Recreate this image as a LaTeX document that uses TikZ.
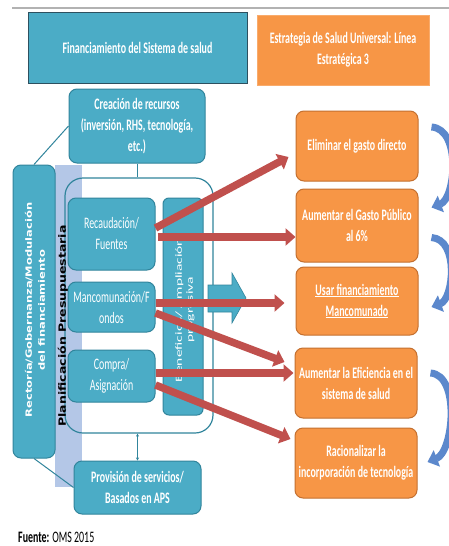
\documentclass[tikz,border=0pt]{standalone}
\usepackage{fontspec}
\usepackage{graphicx}
\setmainfont{Carlito}
\newfontfamily\narrowfont{Carlito}[FakeStretch=0.62]
\newfontfamily\dejavu{DejaVu Sans}
\usetikzlibrary{arrows.meta,calc}

\definecolor{tealfill}{RGB}{75,172,198}
\definecolor{tealline}{RGB}{49,133,156}
\definecolor{tealdark}{RGB}{45,80,95}
\definecolor{orangefill}{RGB}{247,150,70}
\definecolor{orangeline}{RGB}{196,112,48}
\definecolor{redarrow}{RGB}{192,80,77}
\definecolor{bandblue}{RGB}{180,199,231}
\definecolor{arcblue}{RGB}{92,136,204}

\begin{document}
\begin{tikzpicture}[x=1pt,y=-1pt,
  boxtext/.style={font=\narrowfont\fontsize{16}{21}\selectfont, text=white, align=center, inner sep=0pt},
  boldtext/.style={boxtext, font=\narrowfont\bfseries\fontsize{16}{21}\selectfont},
  tealbox/.style={draw=tealline, fill=tealfill, line width=1pt, rounded corners=8pt},
  orangebox/.style={boldtext, draw=orangeline, fill=orangefill, line width=1pt,
    rounded corners=8pt, minimum width=122pt, minimum height=70pt},
  redarr/.style={draw=redarrow, line width=7.5pt, -{Triangle[length=10pt,width=17pt]}},
  bluearc/.style={draw=arcblue, line width=7pt, -{Triangle[length=10pt,width=17pt]}},
  link/.style={draw=tealline, line width=1pt},
  sidetext/.style={font=\dejavu\bfseries\fontsize{12.5}{18}\selectfont, align=center, inner sep=0pt}
]
\useasboundingbox (0,0) rectangle (449,546);
\fill[white] (0,0) rectangle (449,546);

% header rule
\draw[gray!60, line width=1.5pt] (12,8) -- (449,8);

% header boxes
\node[boldtext, draw=tealdark, fill=tealfill, line width=1pt,
  minimum width=219pt, minimum height=71pt] (financ) at (137.5,47.5)
  {Financiamiento del Sistema de salud};
\node[boldtext, draw=orangefill!80!white, fill=orangefill, line width=1pt,
  minimum width=172pt, minimum height=70pt] (estrat) at (343,50)
  {Estrategia de Salud Universal: Línea\\Estratégica 3};

% budget planning band
\fill[bandblue] (55,165) rectangle (82,487);

% left governance box
\node[tealbox, minimum width=42pt, minimum height=293pt] (rector) at (34,311.5) {};
\node[sidetext, text=white, rotate=90, font=\dejavu\bfseries\fontsize{11.5}{18}\selectfont] (rectortxt) at (35,310)
  {\scalebox{1}[0.75]{Rectoría/Gobernanza/Modulación}\\[-5pt]\scalebox{1}[0.75]{del financiamiento}};

% frame around the financing functions
\node[draw=tealline, line width=1.2pt, rounded corners=18pt,
  minimum width=148pt, minimum height=255pt] (marco) at (139,305.5) {};

% top and bottom boxes
\node[tealbox, boldtext, minimum width=136pt, minimum height=74pt] (creacion) at (137,126)
  {Creación de recursos\\(inversión, RHS, tecnología,\\etc.)};
\node[tealbox, boldtext, minimum width=127pt, minimum height=53pt] (provision) at (137.5,487.5)
  {Provisión de servicios/\\Basados en APS};

% financing functions
\node[tealbox, boxtext, minimum width=87pt, minimum height=72pt] (recaud) at (111.5,234)
  {Recaudación/\\Fuentes};
\node[tealbox, boxtext, minimum width=87pt, minimum height=50pt] (mancom) at (111.5,307)
  {Mancomunación/F\\ondos};
\node[tealbox, boxtext, minimum width=87pt, minimum height=52pt] (compra) at (111.5,376)
  {Compra/\\Asignación};

% benefits box
\node[draw=tealline, fill=tealfill, line width=1pt, rounded corners=6pt,
  minimum width=40pt, minimum height=217pt] (benef) at (183,306.5) {};
\node[boxtext, rotate=90, font=\fontsize{15.5}{17}\selectfont] (beneftxt) at (185,310)
  {\scalebox{1}[0.6]{Beneficios/ Ampliación}\\[-6pt]\scalebox{1}[0.6]{progresiva}};

% block arrow towards the strategy lines
\filldraw[fill=tealfill, draw=tealline, line width=0.6pt]
  (208,285) -- (232,285) -- (232,273) -- (246,298) -- (232,323) -- (232,312) -- (208,312) -- cycle;

% connectors
\draw[link] (creacion.south) -- (creacion.south |- marco.north);
\draw[link, {Stealth[length=3pt,width=3pt]}-{Stealth[length=3pt,width=3pt]}]
  (provision.north |- marco.south) -- (provision.north);
\draw[link] (creacion.west) -- (rector.north);
\draw[link] (rector.south) -- (provision.west);

% strategy lines
\node[orangebox] (elim) at (357,146) {Eliminar el gasto directo};
\node[orangebox, minimum height=73pt] (gasto) at (357,225.5) {Aumentar el Gasto Público\\al 6\%};
\node[orangebox, minimum height=68pt] (usar) at (357,301) {\underline{Usar financiamiento}\\\underline{Mancomunado}};
\node[orangebox] (efic) at (356,383) {Aumentar la Eficiencia en el\\sistema de salud};
\node[orangebox] (racion) at (356,463) {Racionalizar la\\incorporación de tecnología};

% red arrows from the functions to the strategy lines
\draw[redarr] ($(recaud.east)+(0,-6)$) -- ($(elim.west)+(-7,11)$);
\draw[redarr] ($(recaud.east)+(2,3)$) -- ($(gasto.west)+(0,11.5)$);
\draw[redarr] ($(mancom.east)+(0,-4)$) -- ($(usar.west)+(-11,2)$);
\draw[redarr] ($(mancom.east)+(0,6)$) -- ($(efic.west)+(-10,-21)$);
\draw[redarr] ($(compra.east)+(0,-3)$) -- ($(efic.west)+(-1,-10)$);
\draw[redarr] ($(compra.east)+(0,9)$) -- ($(racion.west)+(-4,-24)$);

% sequence arrows between the strategy lines
\coordinate (a1s) at ($(elim.east)+(13,-19)$);
\coordinate (a1e) at ($(gasto.east)+(13,-18)$);
\coordinate (a2s) at ($(gasto.east)+(13,12)$);
\coordinate (a2e) at ($(usar.east)+(13,6)$);
\coordinate (a3s) at ($(efic.east)+(13,-10)$);
\coordinate (a3e) at ($(racion.east)+(10,-1)$);
\draw[bluearc] (a1s) .. controls +(30,2) and +(24,-9) .. (a1e);
\draw[bluearc] (a2s) .. controls +(28,2) and +(22,-8) .. (a2e);
\draw[bluearc] (a3s) .. controls +(30,2) and +(26,-10) .. (a3e);

% planning label on top
\node[sidetext, text=black, rotate=90] (planif) at (63,326)
  {\scalebox{1}[0.8]{Planificación Presupuestaria}};

% source
\node[anchor=west, inner sep=0pt, font=\narrowfont\fontsize{16}{18}\selectfont] (fuente) at (18,537)
  {\textbf{Fuente:} OMS 2015};
\end{tikzpicture}
\end{document}
